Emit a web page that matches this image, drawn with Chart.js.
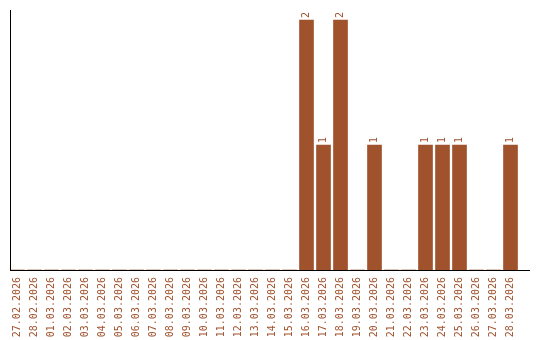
<!DOCTYPE html>
<html>
<head>
<meta charset="utf-8">
<script src="https://cdn.jsdelivr.net/npm/chart.js@4/dist/chart.umd.min.js"></script>
<style>
  html, body { margin: 0; padding: 0; background: #fff; }
  #wrap { width: 540px; height: 340px; }
</style>
</head>
<body>
<div id="wrap"><canvas id="chart"></canvas></div>
<script>
var dates = [
  "27.02.2026", "28.02.2026", "01.03.2026", "02.03.2026", "03.03.2026",
  "04.03.2026", "05.03.2026", "06.03.2026", "07.03.2026", "08.03.2026",
  "09.03.2026", "10.03.2026", "11.03.2026", "12.03.2026", "13.03.2026",
  "14.03.2026", "15.03.2026", "16.03.2026", "17.03.2026", "18.03.2026",
  "19.03.2026", "20.03.2026", "21.03.2026", "22.03.2026", "23.03.2026",
  "24.03.2026", "25.03.2026", "26.03.2026", "27.03.2026", "28.03.2026"
];
var counts = [
  0, 0, 0, 0, 0,
  0, 0, 0, 0, 0,
  0, 0, 0, 0, 0,
  0, 0, 2, 1, 2,
  0, 1, 0, 0, 1,
  1, 1, 0, 0, 1
];

var sienna = "#a0522d";
var monoFont = "'DejaVu Sans Mono', monospace";

// axis lines like the original: left edge and a bottom line running past the bars
var axisLines = {
  id: "axisLines",
  afterDraw: function (chart) {
    var ctx = chart.ctx, area = chart.chartArea;
    ctx.save();
    ctx.strokeStyle = "#000";
    ctx.lineWidth = 1;
    ctx.beginPath();
    ctx.moveTo(10.5, area.top);
    ctx.lineTo(10.5, area.bottom);
    ctx.moveTo(10, area.bottom + 0.5);
    ctx.lineTo(530, area.bottom + 0.5);
    ctx.stroke();
    ctx.restore();
  }
};

// value labels above bars, rotated
var barValues = {
  id: "barValues",
  afterDatasetsDraw: function (chart) {
    var ctx = chart.ctx;
    var meta = chart.getDatasetMeta(0);
    ctx.save();
    ctx.fillStyle = sienna;
    ctx.font = "10px " + monoFont;
    ctx.textBaseline = "middle";
    ctx.textAlign = "left";
    meta.data.forEach(function (bar, i) {
      var v = counts[i];
      if (!v) return;
      ctx.save();
      ctx.translate(bar.x, bar.y - 2);
      ctx.rotate(-Math.PI / 2);
      ctx.fillText(String(v), 0, 0);
      ctx.restore();
    });
    ctx.restore();
  }
};

new Chart(document.getElementById("chart"), {
  type: "bar",
  data: {
    labels: dates,
    datasets: [{
      data: counts,
      backgroundColor: sienna,
      borderWidth: 0,
      barThickness: 14
    }]
  },
  options: {
    responsive: true,
    maintainAspectRatio: false,
    animation: false,
    layout: { padding: { left: 9, right: 21, top: 10, bottom: 0 } },
    plugins: { legend: { display: false }, tooltip: { enabled: false } },
    scales: {
      x: {
        grid: { display: false, drawTicks: false },
        border: { display: false },
        ticks: {
          autoSkip: false,
          minRotation: 90,
          maxRotation: 90,
          padding: 7,
          color: sienna,
          font: { family: monoFont, size: 10 }
        },
        afterFit: function (s) { s.height = 70; }
      },
      y: {
        display: false,
        min: 0,
        max: 2.08
      }
    }
  },
  plugins: [axisLines, barValues]
});
</script>
</body>
</html>
